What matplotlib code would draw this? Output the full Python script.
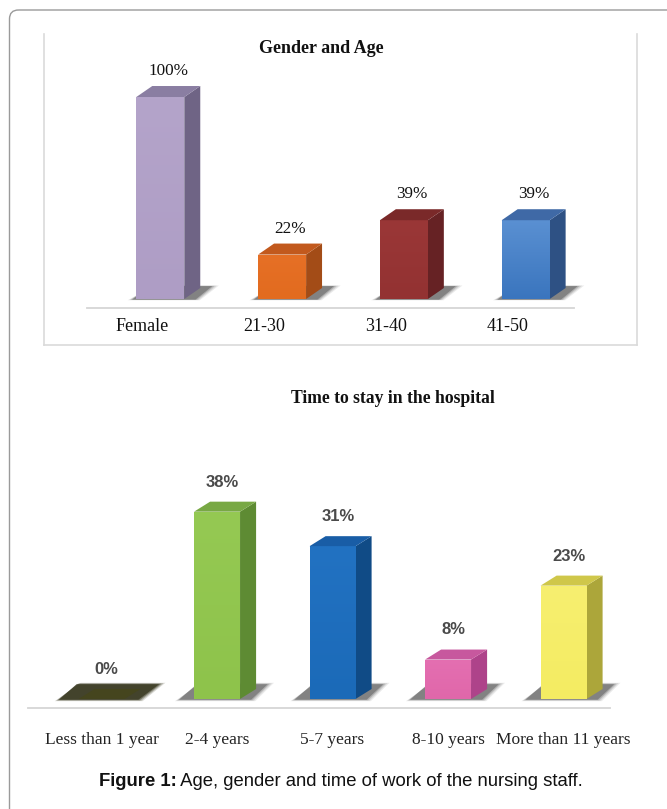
import matplotlib
matplotlib.use("Agg")
import matplotlib.pyplot as plt
from matplotlib.patches import Polygon, Rectangle, FancyBboxPatch
from matplotlib.colors import to_rgb
import numpy as np

# ---------------- data ----------------
top_title = "Gender and Age"
top_categories = ["Female", "21-30", "31-40", "41-50"]
top_values = [100, 22, 39, 39]
top_front_hi = ["#B4A4CA", "#E67026", "#9A3737", "#5A90D2"]
top_front_lo = ["#AE9DC5", "#E26B1F", "#933232", "#3A75BE"]
top_side = ["#6F6485", "#A34C17", "#662224", "#2E5184"]
top_top = ["#8A7EA2", "#C2591D", "#7A2929", "#3F69A6"]

bot_title = "Time to stay in the hospital"
bot_categories = ["Less than 1 year", "2-4 years", "5-7 years", "8-10 years", "More than 11 years"]
bot_values = [0, 38, 31, 8, 23]
bot_front_hi = ["#3E3E1C", "#95C953", "#2272C2", "#E46FB1", "#F7EF70"]
bot_front_lo = ["#3E3E1C", "#8EC34B", "#1B6AB8", "#E067AA", "#F4EC62"]
bot_side = ["#2E2E14", "#5E8B33", "#104B86", "#AE438A", "#ACA63A"]
bot_top = ["#45451E", "#78A844", "#195DA6", "#C7589E", "#CFC74A"]

caption_bold = "Figure 1:"
caption_rest = " Age, gender and time of work of the nursing staff."

W, H = 667, 809
fig = plt.figure(figsize=(W / 100, H / 100), dpi=100)
fig.patch.set_facecolor("white")


def fx(px):
    return px / W


def fy(py):
    return 1 - py / H


# outer rounded frame (decoration)
deco = fig.add_axes([0, 0, 1, 1])
deco.set_xlim(0, W)
deco.set_ylim(H, 0)
deco.axis("off")
deco.add_patch(FancyBboxPatch((9.5, 10), 720, 900, boxstyle="round,pad=0,rounding_size=9",
                              fc="none", ec="#9A9A9A", lw=1.0))


def shadow(ax, x0, w, dx, sh_h, ext_l, ext_r, color="#3a3a3a", alphas=(0.10, 0.14, 0.22, 0.38)):
    for k, a in enumerate(alphas):
        g = (3 - k) * 0.012
        pts = [(x0 - ext_l - g, -sh_h * 0.05 - g * 8),
               (x0 + w + ext_r * 0.4 + g, -sh_h * 0.05 - g * 8),
               (x0 + w + ext_r + g * 1.5, sh_h + g * 8),
               (x0 - ext_l + dx * 1.1 + g, sh_h + g * 8)]
        ax.add_patch(Polygon(pts, closed=True, fc=color, ec="none", alpha=a, zorder=1))


def bar3d(ax, xc, h, w, dx, dy, c_hi, c_lo, cs, ct):
    x0 = xc - w / 2
    if h > 0:
        rect = Rectangle((x0, 0), w, h, fc=c_lo, ec="none", zorder=3)
        ax.add_patch(rect)
        a, b = np.array(to_rgb(c_hi)), np.array(to_rgb(c_lo))
        t = np.linspace(0, 1, 64)[:, None]
        grad = (a * (1 - t) + b * t)[:, None, :]
        im = ax.imshow(grad, extent=[x0, x0 + w, 0, h], aspect="auto", origin="upper",
                       zorder=3.1, interpolation="bilinear")
        im.set_clip_path(rect)
        ax.add_patch(Polygon([(x0 + w, 0), (x0 + w + dx, dy), (x0 + w + dx, h + dy), (x0 + w, h)],
                             closed=True, fc=cs, ec="none", zorder=3))
    ax.add_patch(Polygon([(x0, h), (x0 + dx, h + dy), (x0 + w + dx, h + dy), (x0 + w, h)],
                         closed=True, fc=ct, ec="none", zorder=4))


# ---------------- top chart ----------------
ax1 = fig.add_axes([fx(44), fy(345), (637 - 44) / W, (345 - 34) / H])
w1, dx1, dy1 = 0.394, 0.131, 5.45
x1 = np.arange(len(top_categories))
for i, v in enumerate(top_values):
    shadow(ax1, x1[i] - w1 / 2, w1, dx1, 6.4, 0.035, 0.23)
    bar3d(ax1, x1[i], v, w1, dx1, dy1, top_front_hi[i], top_front_lo[i], top_side[i], top_top[i])
    ax1.text(x1[i] + 0.066, v + 12.9, f"{v}%", ha="center", va="center",
             fontsize=12.3, family="Liberation Serif", color="#111111")
    ax1.text(x1[i] - 0.15, -13.4, top_categories[i], ha="center", va="center",
             fontsize=13, family="Liberation Serif", color="#111111")
ax1.plot([-0.6, 3.4], [-4.46, -4.46], color="#D5D5D5", lw=1.3, zorder=0)
ax1.text(0.468, 0.953, top_title, transform=ax1.transAxes, ha="center", va="center",
         fontsize=13, family="Liberation Serif", fontweight="bold", color="#111111")
ax1.set_xlim(-0.955, 3.914)
ax1.set_ylim(-22.77, 131.2)
ax1.set_xticks([])
ax1.set_yticks([])
for name, s in ax1.spines.items():
    s.set_color("#DADADA")
    s.set_linewidth(1.2)
ax1.spines["top"].set_visible(False)

# ---------------- bottom chart ----------------
ax2 = fig.add_axes([fx(14), fy(800), (660 - 14) / W, (800 - 380) / H])
w2, dx2, dy2 = 0.398, 0.139, 2.03
x2 = np.arange(len(bot_categories))
for i, v in enumerate(bot_values):
    if v == 0:
        shadow(ax2, x2[i] - w2 / 2, w2, dx2, 3.0, 0.17, 0.30, color="#33331a",
               alphas=(0.18, 0.28, 0.45, 0.75))
    else:
        shadow(ax2, x2[i] - w2 / 2, w2, dx2, 3.0, 0.13, 0.24)
    bar3d(ax2, x2[i], v, w2, dx2, dy2, bot_front_hi[i], bot_front_lo[i], bot_side[i], bot_top[i])
    ax2.text(x2[i] + 0.045, v + 6.0, f"{v}%", ha="center", va="center",
             fontsize=12, family="Liberation Sans", fontweight="bold", color="#4a4a4a")
    ax2.text(x2[i], -8.3, bot_categories[i], ha="center", va="center",
             fontsize=12.5, family="Liberation Serif", color="#222222")
ax2.plot([-0.636, 4.403], [-1.83, -1.83], color="#D5D5D5", lw=1.3, zorder=0)
ax2.text(0.587, 0.957, bot_title, transform=ax2.transAxes, ha="center", va="center",
         fontsize=12.7, family="Liberation Serif", fontweight="bold", color="#111111")
ax2.set_xlim(-0.758, 4.835)
ax2.set_ylim(-20.49, 64.71)
ax2.axis("off")

# ---------------- caption ----------------
fig.canvas.draw()
r = fig.canvas.get_renderer()
tb = fig.text(0, fy(781), caption_bold, ha="left", va="center", fontsize=13.3,
              family="Liberation Sans", fontweight="bold", color="#111111")
tr = fig.text(0, fy(781), caption_rest, ha="left", va="center", fontsize=13.3,
              family="Liberation Sans", color="#111111")
wb = tb.get_window_extent(r).width
wr = tr.get_window_extent(r).width
start = 341 - (wb + wr) / 2
tb.set_x(start / W)
tr.set_x((start + wb) / W)

fig.savefig("out.png", dpi=100)
